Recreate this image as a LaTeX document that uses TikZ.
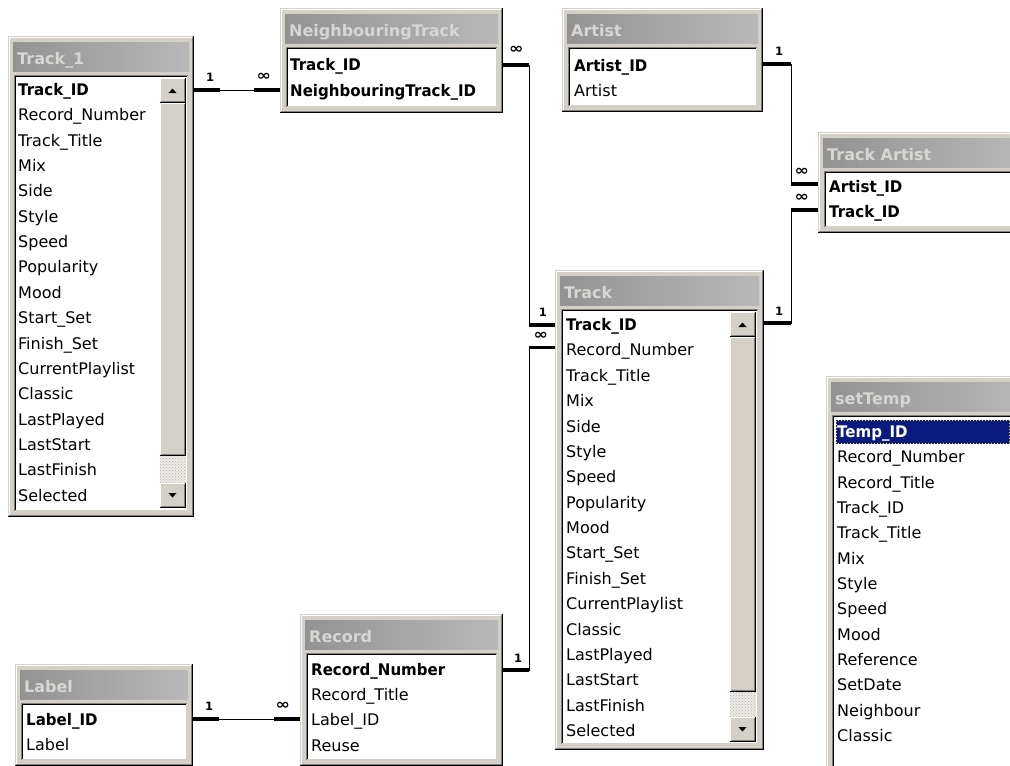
\documentclass[tikz,border=0pt]{standalone}
\usepackage{fontspec}
\usepackage{graphicx}
\setmainfont{DejaVu Sans}
\newfontfamily\keyfont{DejaVu Sans Bold}[FakeStretch=0.94]
\newfontfamily\titlefont{DejaVu Sans Bold}
\newfontfamily\cardfont{DejaVu Sans Bold}
\usetikzlibrary{fit,patterns,calc}
\definecolor{winface}{HTML}{D4D0C8}
\definecolor{winshadow}{HTML}{808080}
\definecolor{titleL}{HTML}{939393}
\definecolor{titleR}{HTML}{B8B8B8}
\definecolor{titletxt}{HTML}{D8D6D2}
\definecolor{selnavy}{HTML}{0A1A80}
\definecolor{hatch}{HTML}{EDEBE7}

\tikzset{
  fieldtext/.style={anchor=west, inner sep=0pt, text height=14pt, text depth=3pt, font=\fontsize{16}{19}\selectfont},
  keytext/.style={fieldtext, font=\fontsize{16}{19}\keyfont},
  titletext/.style={anchor=base west, inner sep=0pt, text=titletxt, font=\fontsize{16}{19}\titlefont},
  relline/.style={line width=1pt, black},
  endseg/.style={line width=3.5pt, black},
  card/.style={inner sep=0pt, font=\fontsize{11.5}{13}\cardfont},
}
\newcommand\many{\scalebox{1.5}[1.25]{∞}}

% window: name, x0, y0, x1, y1, title
\newcommand\tbwin[6]{%
  \node[fit={(#2,#3) (#4,#5)}, inner sep=0pt, fill=winface, draw=none] (#1) {};
  \draw[white, line width=1pt] (#2+1.5,#5-1) -- (#2+1.5,#3+1.5) -- (#4-1,#3+1.5);
  \draw[black, line width=1.5pt] (#2,#5-0.75) -- (#4-0.75,#5-0.75) -- (#4-0.75,#3);
  \draw[winshadow, line width=1pt] (#2+1,#5-2) -- (#4-2,#5-2) -- (#4-2,#3+1);
  \shade[left color=titleL, right color=titleR] (#2+5,#3+6) rectangle (#4-5,#3+35);
  \node[titletext] (#1-title) at (#2+9,#3+28) {#6};
  \fill[white] (#2+6,#3+39) rectangle (#4-6,#5-6);
  \draw[winshadow, line width=1pt] (#2+6.5,#5-6) -- (#2+6.5,#3+39.5) -- (#4-6,#3+39.5);
  \draw[black, line width=1pt] (#2+7.5,#5-7) -- (#2+7.5,#3+40.5) -- (#4-7,#3+40.5);
  \draw[winface, line width=1pt] (#2+7,#5-6.5) -- (#4-6.5,#5-6.5) -- (#4-6.5,#3+40);
}

% raised button: x0 y0 x1 y1
\newcommand\winraised[4]{%
  \fill[winface] (#1,#2) rectangle (#3,#4);
  \draw[white, line width=1pt] (#1+0.5,#4-1) -- (#1+0.5,#2+0.5) -- (#3-1,#2+0.5);
  \draw[black, line width=1pt] (#1,#4-0.5) -- (#3-0.5,#4-0.5) -- (#3-0.5,#2);
  \draw[winshadow, line width=1pt] (#1+1,#4-1.5) -- (#3-1.5,#4-1.5) -- (#3-1.5,#2+1);
}

% scrollbar: x, ytop, thumb end, ybottom
\newcommand\sbar[4]{%
  \fill[hatch] (#1,#3) rectangle (#1+26,#4-25);
  \fill[pattern=crosshatch dots, pattern color=winface!85!black] (#1,#3) rectangle (#1+26,#4-25);
  \winraised{#1}{#2}{#1+26}{#2+25}
  \winraised{#1}{#2+25}{#1+26}{#3}
  \winraised{#1}{#4-25}{#1+26}{#4}
  \fill[black] (#1+8.5,#2+15) -- (#1+16.5,#2+15) -- (#1+12.5,#2+10.5) -- cycle;
  \fill[black] (#1+8.5,#4-15) -- (#1+16.5,#4-15) -- (#1+12.5,#4-10.5) -- cycle;
}

\begin{document}
\begin{tikzpicture}[x=1pt,y=-1pt]
\useasboundingbox (0,0) rectangle (1010,766);
\clip (0,0) rectangle (1010,766);
\fill[white] (0,0) rectangle (1010,766);

% ---------- Track_1 ----------
\tbwin{track1}{8}{36}{194}{517}{Track\_1}
\node[keytext] (t1-0) at (18,90) {Track\_ID};
\foreach \t [count=\i] in {Record\_Number,Track\_Title,Mix,Side,Style,Speed,Popularity,Mood,Start\_Set,Finish\_Set,CurrentPlaylist,Classic,LastPlayed,LastStart,LastFinish,Selected}
  \node[fieldtext] (t1-\i) at (18,90+25.35*\i) {\t};
\sbar{160}{78}{456}{508}

% ---------- NeighbouringTrack ----------
\tbwin{nt}{280}{8}{503}{113}{NeighbouringTrack}
\node[keytext] (nt-0) at (290,65) {Track\_ID};
\node[keytext] (nt-1) at (290,91) {NeighbouringTrack\_ID};

% ---------- Artist ----------
\tbwin{artist}{562}{8}{763}{112}{Artist}
\node[keytext] (ar-0) at (574,66) {Artist\_ID};
\node[fieldtext] (ar-1) at (574,91) {Artist};

% ---------- Track Artist ----------
\tbwin{ta}{818}{132}{1030}{233}{Track Artist}
\node[keytext] (ta-0) at (829,187) {Artist\_ID};
\node[keytext] (ta-1) at (829,212) {Track\_ID};

% ---------- Track ----------
\tbwin{track}{555}{270}{764}{750}{Track}
\node[keytext] (tr-0) at (566,325) {Track\_ID};
\foreach \t [count=\i] in {Record\_Number,Track\_Title,Mix,Side,Style,Speed,Popularity,Mood,Start\_Set,Finish\_Set,CurrentPlaylist,Classic,LastPlayed,LastStart,LastFinish,Selected}
  \node[fieldtext] (tr-\i) at (566,325+25.375*\i) {\t};
\sbar{730}{312}{692}{742}

% ---------- setTemp ----------
\tbwin{st}{826}{376}{1030}{800}{setTemp}
\fill[selnavy] (836,420) rectangle (1015,444);
\draw[yellow!85!white, dotted, line width=1pt] (836.5,420.5) rectangle (1009.5,443.5);
\node[keytext, text=white] (st-0) at (837,432) {Temp\_ID};
\foreach \t [count=\i] in {Record\_Number,Record\_Title,Track\_ID,Track\_Title,Mix,Style,Speed,Mood,Reference,SetDate,Neighbour,Classic}
  \node[fieldtext] (st-\i) at (837,432+25.33*\i) {\t};

% ---------- Record ----------
\tbwin{rec}{300}{614}{503}{766}{Record}
\node[keytext] (rec-0) at (311,670) {Record\_Number};
\node[fieldtext] (rec-1) at (311,695) {Record\_Title};
\node[fieldtext] (rec-2) at (311,720) {Label\_ID};
\node[fieldtext] (rec-3) at (311,746) {Reuse};

% ---------- Label ----------
\tbwin{label}{15}{664}{193}{766}{Label}
\node[keytext] (lb-0) at (26,720) {Label\_ID};
\node[fieldtext] (lb-1) at (26,745) {Label};

% ---------- relationships ----------
% Track_1 -> NeighbouringTrack
\coordinate (r1a) at (track1.east |- t1-0);
\coordinate (r1b) at (nt.west |- t1-0);
\draw[relline] (r1a) -- (r1b);
\draw[endseg] (r1a) -- ++(26,0);
\draw[endseg] (r1b) -- ++(-26,0);
\node[card] (c1a) at ($(r1a)+(16,-13)$) {1};
\node[card] (c1b) at ($(r1b)+(-16,-13)$) {\many};

% NeighbouringTrack -> Track
\coordinate (r2a) at (nt.east |- nt-0);
\coordinate (r2b) at (track.west |- tr-0);
\draw[relline] (r2a) -- ++(26,0) |- (r2b);
\draw[endseg] (r2a) -- ++(26,0);
\draw[endseg] (r2b) -- ++(-26,0);
\node[card] (c2a) at ($(r2a)+(13,-15)$) {\many};
\node[card] (c2b) at ($(r2b)+(-12,-13)$) {1};

% Record -> Track
\coordinate (r3a) at (rec.east |- rec-0);
\coordinate (r3b) at ($(track.west |- tr-1)+(0,-3)$);
\draw[relline] (r3a) -- ++(26,0) |- (r3b);
\draw[endseg] (r3a) -- ++(26,0);
\draw[endseg] (r3b) -- ++(-26,0);
\node[card] (c3a) at ($(r3a)+(15,-12)$) {1};
\node[card] (c3b) at ($(r3b)+(-14,-12)$) {\many};

% Artist -> Track Artist
\coordinate (r4a) at ($(artist.east |- ar-0)+(0,-2)$);
\coordinate (r4b) at ($(ta.west |- ta-0)+(0,-3)$);
\draw[relline] (r4a) -- ++(28,0) |- (r4b);
\draw[endseg] (r4a) -- ++(28,0);
\draw[endseg] (r4b) -- ++(-27,0);
\node[card] (c4a) at ($(r4a)+(16,-13)$) {1};
\node[card] (c4b) at ($(r4b)+(-16,-12)$) {\many};

% Track -> Track Artist
\coordinate (r5a) at ($(track.east |- tr-0)+(0,-2)$);
\coordinate (r5b) at ($(ta.west |- ta-1)+(0,-2)$);
\draw[relline] (r5a) -- ++(27,0) |- (r5b);
\draw[endseg] (r5a) -- ++(27,0);
\draw[endseg] (r5b) -- ++(-27,0);
\node[card] (c5a) at ($(r5a)+(15,-12)$) {1};
\node[card] (c5b) at ($(r5b)+(-16,-12)$) {\many};

% Label -> Record
\coordinate (r6a) at ($(label.east |- lb-0)+(0,-1)$);
\coordinate (r6b) at ($(rec.west |- lb-0)+(0,-1)$);
\draw[relline] (r6a) -- (r6b);
\draw[endseg] (r6a) -- ++(26,0);
\draw[endseg] (r6b) -- ++(-26,0);
\node[card] (c6a) at ($(r6a)+(16,-13)$) {1};
\node[card] (c6b) at ($(r6b)+(-17,-13)$) {\many};
\end{tikzpicture}
\end{document}
